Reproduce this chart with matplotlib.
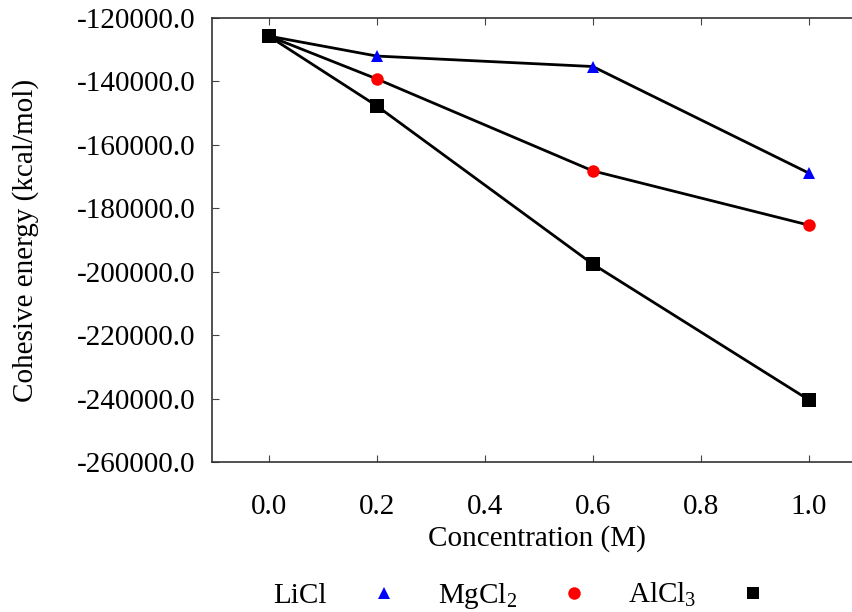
import matplotlib
matplotlib.use("Agg")
import matplotlib.pyplot as plt
from matplotlib.lines import Line2D
from matplotlib.ticker import FormatStrFormatter

plt.rcParams['font.family'] = ['Liberation Serif', 'DejaVu Serif']
plt.rcParams['mathtext.default'] = 'regular'

concentration = [0.0, 0.2, 0.6, 1.0]
licl = [-125700, -132000, -135300, -168900]
mgcl2 = [-125700, -139200, -168200, -185300]
alcl3 = [-125700, -147700, -197600, -240400]
labels = ['LiCl', r'MgCl$_2$', r'AlCl$_3$']
x_ticks = [0.0, 0.2, 0.4, 0.6, 0.8, 1.0]
y_ticks = [-260000, -240000, -220000, -200000, -180000, -160000, -140000, -120000]

FS = 21

fig = plt.figure(figsize=(8.53, 6.12), dpi=100)
ax = fig.add_axes([0.2485, 0.2451, 0.763, 0.7255])

series = [
    (licl, '^', 'blue', 9),
    (mgcl2, 'o', 'red', 9),
    (alcl3, 's', 'black', 9.5),
]
handles = []
for vals, mk, col, ms in series:
    ax.plot(concentration, vals, color='black', lw=2.0, zorder=2)
    ax.plot(concentration, vals, linestyle='none', marker=mk, color=col,
            markersize=ms, markeredgewidth=0, zorder=3)
    handles.append(Line2D([], [], linestyle='none', marker=mk, color=col,
                          markersize=9, markeredgewidth=0))

ax.set_xlim(-0.105, 1.1)
ax.set_ylim(-260000, -120000)
ax.set_xticks(x_ticks)
ax.set_yticks(y_ticks)
ax.xaxis.set_major_formatter(FormatStrFormatter('%.1f'))
ax.yaxis.set_major_formatter(FormatStrFormatter('%.1f'))
ax.tick_params(axis='x', direction='in', length=5, width=0.8, top=True,
               labelsize=FS, pad=23, color='#444444')
ax.tick_params(axis='y', direction='in', length=5, width=0.8,
               labelsize=FS, pad=12, color='#444444')
for s in ax.spines.values():
    s.set_linewidth(1.2)
    s.set_color('#333333')

ax.set_xlabel('Concentration (M)', fontsize=FS, labelpad=4)
ax.set_ylabel('Cohesive energy (kcal/mol)', fontsize=FS, labelpad=27)

fig.legend(handles, labels, loc='center', bbox_to_anchor=(0.610, 0.026),
           ncol=3, frameon=False, markerfirst=False, fontsize=FS,
           handlelength=1.0, columnspacing=1.35, handletextpad=1.45,
           borderpad=0, borderaxespad=0)

fig.savefig('out.png', dpi=100)
